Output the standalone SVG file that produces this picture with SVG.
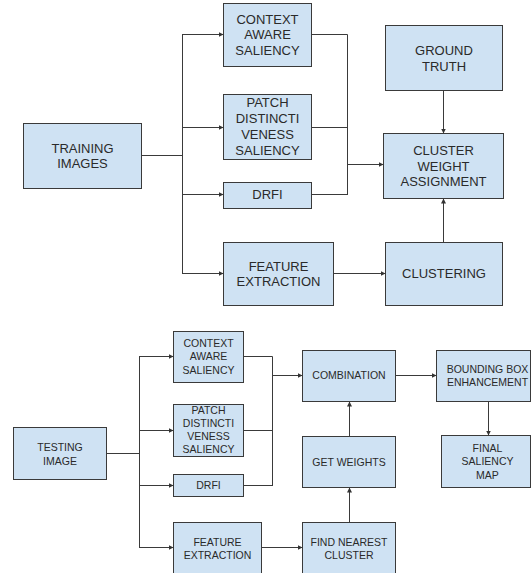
<svg xmlns="http://www.w3.org/2000/svg" width="531" height="573" viewBox="0 0 531 573">
<defs>
<marker id="ah" markerUnits="userSpaceOnUse" markerWidth="6" markerHeight="6" refX="5" refY="2.5" orient="auto">
<path d="M0,0 L5,2.5 L0,5 z" fill="#333"/>
</marker>
<style>
.box{fill:#cfe2f3;stroke:#3a3a3a;stroke-width:1}
.t1{font-family:"Liberation Sans",Arial,sans-serif;font-size:13px;fill:#2a2a2a;text-anchor:middle}
.t2{font-family:"Liberation Sans",Arial,sans-serif;font-size:10.5px;fill:#2a2a2a;text-anchor:middle}
.ln{fill:none;stroke:#3a3a3a;stroke-width:1}
.ar{fill:none;stroke:#3a3a3a;stroke-width:1;marker-end:url(#ah)}
</style>
</defs>
<rect width="531" height="573" fill="#ffffff"/>
<g id="connectors">
<path class="ln" d="M141.5,155.5 H182.5 M182.5,34 V274"/>
<path class="ar" d="M182.5,34.5 H223.5"/>
<path class="ar" d="M182.5,127.5 H223.5"/>
<path class="ar" d="M182.5,194.5 H223.5"/>
<path class="ar" d="M182.5,273.5 H223.5"/>
<path class="ln" d="M311.5,34.5 H347.5 V195 M311.5,127.5 H347.5 M311.5,194.5 H347.5"/>
<path class="ar" d="M347.5,164.5 H383.5"/>
<path class="ar" d="M443.5,90.5 V133.5"/>
<path class="ar" d="M443.5,242.5 V198.5"/>
<path class="ar" d="M333.5,273.5 H385.5"/>
<path class="ln" d="M106.5,453.5 H139.5 M139.5,356 V548"/>
<path class="ar" d="M139.5,356.5 H173.5"/>
<path class="ar" d="M139.5,430.5 H173.5"/>
<path class="ar" d="M139.5,485.5 H173.5"/>
<path class="ar" d="M139.5,547.5 H173.5"/>
<path class="ln" d="M243.5,356.5 H272.5 V486 M243.5,430.5 H272.5 M243.5,485.5 H272.5"/>
<path class="ar" d="M272.5,375.5 H302.5"/>
<path class="ar" d="M395.5,375.5 H436.5"/>
<path class="ar" d="M488.5,401.5 V435.5"/>
<path class="ar" d="M349.5,436.5 V401.5"/>
<path class="ar" d="M349.5,522.5 V487.5"/>
<path class="ar" d="M261.5,547.5 H302.5"/>
</g>
<g id="training-images"><rect class="box" x="23.5" y="123.5" width="118" height="65"/>
<text class="t1" x="82.5"><tspan x="82.5" y="152.7">TRAINING</tspan><tspan x="82.5" y="167.7">IMAGES</tspan></text></g>
<g id="cas-train"><rect class="box" x="223.5" y="3.5" width="88" height="63"/>
<text class="t1"><tspan x="267.5" y="23.7">CONTEXT</tspan><tspan x="267.5" y="39.2">AWARE</tspan><tspan x="267.5" y="54.7">SALIENCY</tspan></text></g>
<g id="pds-train"><rect class="box" x="223.5" y="94.5" width="88" height="65"/>
<text class="t1"><tspan x="267.5" y="107.3">PATCH</tspan><tspan x="267.5" y="123.3">DISTINCTI</tspan><tspan x="267.5" y="139.3">VENESS</tspan><tspan x="267.5" y="155.3">SALIENCY</tspan></text></g>
<g id="drfi-train"><rect class="box" x="223.5" y="182.5" width="88" height="26"/>
<text class="t1" x="267.5" y="199.3">DRFI</text></g>
<g id="fe-train"><rect class="box" x="223.5" y="242.5" width="110" height="63"/>
<text class="t1"><tspan x="278.5" y="270.7">FEATURE</tspan><tspan x="278.5" y="285.9">EXTRACTION</tspan></text></g>
<g id="ground-truth"><rect class="box" x="385.5" y="25.5" width="117" height="65"/>
<text class="t1"><tspan x="444" y="55.3">GROUND</tspan><tspan x="444" y="71.2">TRUTH</tspan></text></g>
<g id="cluster-weight"><rect class="box" x="383.5" y="133.5" width="120" height="65"/>
<text class="t1"><tspan x="443.5" y="154.7">CLUSTER</tspan><tspan x="443.5" y="170.5">WEIGHT</tspan><tspan x="443.5" y="186.3">ASSIGNMENT</tspan></text></g>
<g id="clustering"><rect class="box" x="385.5" y="242.5" width="117" height="63"/>
<text class="t1" x="444" y="278.4">CLUSTERING</text></g>
<g id="testing-image"><rect class="box" x="13.5" y="427.5" width="93" height="52"/>
<text class="t2"><tspan x="60" y="450.5">TESTING</tspan><tspan x="60" y="464.5">IMAGE</tspan></text></g>
<g id="cas-test"><rect class="box" x="173.5" y="331.5" width="70" height="51"/>
<text class="t2"><tspan x="208.5" y="347.1">CONTEXT</tspan><tspan x="208.5" y="360.4">AWARE</tspan><tspan x="208.5" y="373.7">SALIENCY</tspan></text></g>
<g id="pds-test"><rect class="box" x="173.5" y="404.5" width="70" height="52"/>
<text class="t2"><tspan x="208.5" y="414.3">PATCH</tspan><tspan x="208.5" y="427.3">DISTINCTI</tspan><tspan x="208.5" y="440.3">VENESS</tspan><tspan x="208.5" y="453.3">SALIENCY</tspan></text></g>
<g id="drfi-test"><rect class="box" x="173.5" y="474.5" width="70" height="22"/>
<text class="t2" x="208.5" y="489">DRFI</text></g>
<g id="fe-test"><rect class="box" x="173.5" y="522.5" width="88" height="60"/>
<text class="t2"><tspan x="217.5" y="545.6">FEATURE</tspan><tspan x="217.5" y="558.8">EXTRACTION</tspan></text></g>
<g id="combination"><rect class="box" x="302.5" y="350.5" width="93" height="51"/>
<text class="t2" x="349" y="378.8">COMBINATION</text></g>
<g id="bounding-box"><rect class="box" x="436.5" y="350.5" width="94" height="51"/>
<text class="t2"><tspan x="487.5" y="372.8">BOUNDING BOX</tspan><tspan x="487.5" y="385.7">ENHANCEMENT</tspan></text></g>
<g id="final-saliency"><rect class="box" x="441.5" y="435.5" width="89" height="52"/>
<text class="t2"><tspan x="487.5" y="452">FINAL</tspan><tspan x="487.5" y="465.4">SALIENCY</tspan><tspan x="487.5" y="478.8">MAP</tspan></text></g>
<g id="get-weights"><rect class="box" x="302.5" y="436.5" width="93" height="51"/>
<text class="t2" x="349" y="465.5">GET WEIGHTS</text></g>
<g id="find-nearest"><rect class="box" x="302.5" y="522.5" width="93" height="60"/>
<text class="t2"><tspan x="349" y="546">FIND NEAREST</tspan><tspan x="349" y="558.8">CLUSTER</tspan></text></g>
</svg>
